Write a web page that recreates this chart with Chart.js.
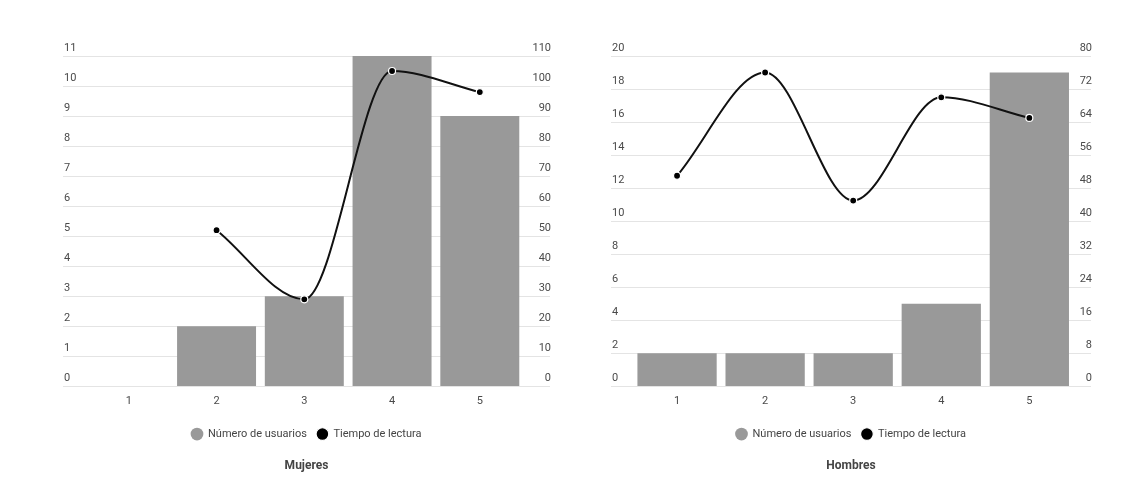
<!DOCTYPE html>
<html>
<head>
<meta charset="utf-8">
<script src="https://cdn.jsdelivr.net/npm/chart.js@4"></script>
<style>
  html, body { margin: 0; padding: 0; background: #fff; }
  .box { position: absolute; top: 0; width: 564px; height: 481px; }
  #left { left: 0; }
  #right { left: 564px; }
</style>
</head>
<body>
<div class="box" id="left"><canvas id="mujeresChart"></canvas></div>
<div class="box" id="right"><canvas id="hombresChart"></canvas></div>
<script>
// Data
const categories = [1, 2, 3, 4, 5];
const mujeresUsuarios = [0, 2, 3, 11, 9];
const mujeresTiempo = [null, 52, 29, 105, 98];
const hombresUsuarios = [2, 2, 2, 5, 19];
const hombresTiempo = [51, 76, 45, 70, 65];

const barColor = '#999999';
const lineColor = '#111111';
const textColor = '#4a4a4a';
const font = 'Roboto';

function toPoints(values) {
    return categories.map((c, i) => ({ x: c, y: values[i] }));
}

function makeChart(canvasId, title, usuarios, tiempo, leftMax, leftStep, rightMax, rightStep, xMax, pad) {
    const ctx = document.getElementById(canvasId).getContext('2d');
    return new Chart(ctx, {
        data: {
            datasets: [
                {
                    type: 'bar',
                    label: 'Número de usuarios',
                    data: toPoints(usuarios),
                    backgroundColor: barColor,
                    borderWidth: 0,
                    barPercentage: 0.9,
                    categoryPercentage: 1,
                    yAxisID: 'y',
                    order: 1
                },
                {
                    type: 'line',
                    label: 'Tiempo de lectura',
                    data: toPoints(tiempo),
                    borderColor: lineColor,
                    backgroundColor: '#000000',
                    borderWidth: 2,
                    cubicInterpolationMode: 'monotone',
                    pointRadius: 3.5,
                    pointBorderWidth: 1.2,
                    pointBackgroundColor: '#000000',
                    pointBorderColor: '#ffffff',
                    yAxisID: 'y1',
                    order: 0
                }
            ]
        },
        options: {
            responsive: true,
            maintainAspectRatio: false,
            animation: false,
            layout: { padding: pad },
            plugins: {
                legend: {
                    position: 'bottom',
                    labels: {
                        sort: (a, b) => a.datasetIndex - b.datasetIndex,
                        usePointStyle: true,
                        pointStyle: 'circle',
                        boxHeight: 9,
                        padding: 10,
                        color: '#444444',
                        font: { family: font, size: 11 }
                    }
                },
                title: {
                    display: true,
                    position: 'bottom',
                    text: title,
                    color: '#444444',
                    font: { family: font, size: 12, weight: 'bold' },
                    padding: { top: 9, bottom: 0 }
                },
                tooltip: { enabled: false }
            },
            scales: {
                x: {
                    type: 'linear',
                    offset: false,
                    min: 0.25,
                    max: xMax,
                    grid: { display: false },
                    border: { display: false },
                    afterBuildTicks: (scale) => {
                        scale.ticks = categories.map(v => ({ value: v }));
                    },
                    afterFit: (scale) => { scale.height += 11; },
                    ticks: {
                        padding: 0,
                        color: textColor,
                        font: { family: font, size: 11 }
                    }
                },
                y: {
                    position: 'left',
                    min: 0,
                    max: leftMax,
                    grid: { color: '#e4e4e4', drawTicks: false },
                    border: { display: false },
                    ticks: {
                        stepSize: leftStep,
                        mirror: true,
                        padding: 1,
                        labelOffset: -8,
                        color: textColor,
                        font: { family: font, size: 11 }
                    }
                },
                y1: {
                    position: 'right',
                    min: 0,
                    max: rightMax,
                    grid: { display: false, drawTicks: false },
                    border: { display: false },
                    ticks: {
                        stepSize: rightStep,
                        mirror: true,
                        padding: 1,
                        labelOffset: -8,
                        color: textColor,
                        font: { family: font, size: 11 }
                    }
                }
            }
        }
    });
}

makeChart('mujeresChart', 'Mujeres', mujeresUsuarios, mujeresTiempo, 11, 1, 110, 10, 5.8,
    { left: 61, right: 12, top: 56, bottom: 8 });
makeChart('hombresChart', 'Hombres', hombresUsuarios, hombresTiempo, 20, 2, 80, 8, 5.7,
    { left: 45, right: 35, top: 56, bottom: 8 });
</script>
</body>
</html>
